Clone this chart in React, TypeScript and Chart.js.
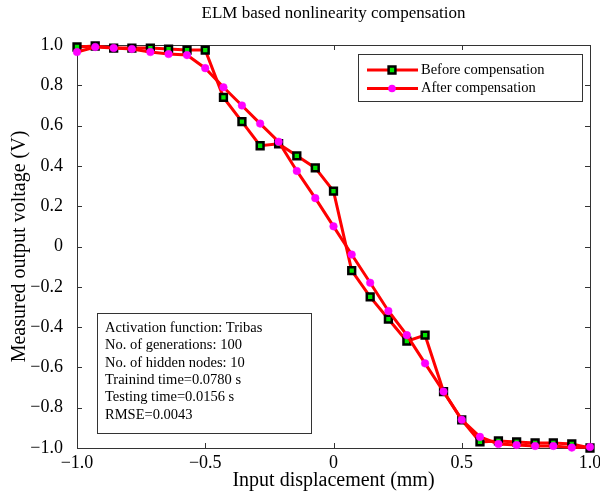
import React, { useEffect, useRef } from 'react';
import { Chart, registerables } from 'chart.js';

Chart.register(...registerables);

const titleText = 'ELM based nonlinearity compensation';
const xLabel = 'Input displacement (mm)';
const yLabel = 'Measured output voltage (V)';
const seriesNames = ['Before compensation', 'After compensation'];

const xValues = [
  -1, -0.929, -0.857, -0.786, -0.714, -0.643, -0.571, -0.5, -0.429, -0.357,
  -0.286, -0.214, -0.143, -0.071, 0, 0.071, 0.143, 0.214, 0.286, 0.357,
  0.429, 0.5, 0.571, 0.643, 0.714, 0.786, 0.857, 0.929, 1,
];
const beforeValues = [
  0.99, 0.995, 0.985, 0.985, 0.985, 0.98, 0.975, 0.975, 0.74, 0.62,
  0.5, 0.51, 0.45, 0.39, 0.275, -0.12, -0.25, -0.36, -0.47, -0.44,
  -0.72, -0.86, -0.97, -0.965, -0.97, -0.975, -0.975, -0.98, -1.0,
];
const afterValues = [
  0.965, 0.99, 0.985, 0.98, 0.965, 0.955, 0.95, 0.885, 0.79, 0.7,
  0.61, 0.52, 0.375, 0.24, 0.1, -0.04, -0.18, -0.32, -0.44, -0.58,
  -0.72, -0.86, -0.945, -0.98, -0.985, -0.99, -0.99, -0.998, -0.995,
];
const xTicks = [-1, -0.5, 0, 0.5, 1];
const yTicks = [-1, -0.8, -0.6, -0.4, -0.2, 0, 0.2, 0.4, 0.6, 0.8, 1];
const infoLines = [
  'Activation function: Tribas',
  'No. of generations: 100',
  'No. of hidden nodes: 10',
  'Trainind time=0.0780 s',
  'Testing time=0.0156 s',
  'RMSE=0.0043',
];

const FONT = "'Liberation Serif', 'Times New Roman', serif";
const RED = '#ff0000';
const GREEN = '#00e400';
const MAGENTA = '#ff00ff';
const FRAME = '#333333';

const fmt = (v: number) =>
  Math.abs(v) < 1e-9 ? '0' : (v < 0 ? '\u2212' : '') + Math.abs(v).toFixed(1);

const framePlugin = {
  id: 'frame',
  beforeDatasetsDraw(chart: any) {
    const { ctx, chartArea: a, scales } = chart;
    ctx.save();
    ctx.strokeStyle = FRAME;
    ctx.lineWidth = 1;
    ctx.strokeRect(a.left + 0.5, a.top + 0.5, a.right - a.left, a.bottom - a.top);
    const L = 5;
    ctx.beginPath();
    scales.x.ticks.forEach((t: any) => {
      const px = Math.round(scales.x.getPixelForValue(t.value)) + 0.5;
      ctx.moveTo(px, a.bottom);
      ctx.lineTo(px, a.bottom - L);
      ctx.moveTo(px, a.top);
      ctx.lineTo(px, a.top + L);
    });
    scales.y.ticks.forEach((t: any) => {
      const py = Math.round(scales.y.getPixelForValue(t.value)) + 0.5;
      ctx.moveTo(a.left, py);
      ctx.lineTo(a.left + L, py);
      ctx.moveTo(a.right, py);
      ctx.lineTo(a.right - L, py);
    });
    ctx.stroke();
    ctx.restore();
  },
};

const overlayPlugin = {
  id: 'overlay',
  afterDatasetsDraw(chart: any) {
    const { ctx, chartArea: a } = chart;
    ctx.save();
    // legend
    const lw = 224;
    const lh = 47;
    const lx = a.right - 8 - lw;
    const ly = a.top + 9;
    ctx.fillStyle = '#ffffff';
    ctx.fillRect(lx, ly, lw, lh);
    ctx.strokeStyle = FRAME;
    ctx.lineWidth = 1;
    ctx.strokeRect(lx + 0.5, ly + 0.5, lw, lh);
    const rows = [ly + 16, ly + 34.5];
    ctx.font = `14.5px ${FONT}`;
    ctx.textBaseline = 'middle';
    ctx.textAlign = 'left';
    rows.forEach((ry, i) => {
      ctx.strokeStyle = RED;
      ctx.lineWidth = 3;
      ctx.beginPath();
      ctx.moveTo(lx + 9, ry);
      ctx.lineTo(lx + 60, ry);
      ctx.stroke();
      const mx = lx + 34;
      if (i === 0) {
        ctx.fillStyle = GREEN;
        ctx.strokeStyle = '#000';
        ctx.lineWidth = 2.5;
        ctx.beginPath();
        ctx.rect(mx - 3.4, ry - 3.4, 6.8, 6.8);
        ctx.fill();
        ctx.stroke();
      } else {
        ctx.fillStyle = MAGENTA;
        ctx.beginPath();
        ctx.arc(mx, ry, 3.8, 0, Math.PI * 2);
        ctx.fill();
      }
      ctx.fillStyle = '#000';
      ctx.fillText(seriesNames[i], lx + 63, ry);
    });
    // info box
    const bw = 214;
    const bh = 120;
    const bx = a.left + 20;
    const by = a.bottom - 15 - bh;
    ctx.fillStyle = '#ffffff';
    ctx.fillRect(bx, by, bw, bh);
    ctx.strokeStyle = FRAME;
    ctx.lineWidth = 1;
    ctx.strokeRect(bx + 0.5, by + 0.5, bw, bh);
    ctx.fillStyle = '#000';
    ctx.font = `14.5px ${FONT}`;
    infoLines.forEach((t, i) => {
      ctx.fillText(t, bx + 8, by + 15 + i * 17.4);
    });
    ctx.restore();
  },
};

export default function App() {
  const ref = useRef<HTMLCanvasElement | null>(null);

  useEffect(() => {
    if (!ref.current) return;
    const chart = new Chart(ref.current, {
      type: 'line',
      data: {
        datasets: [
          {
            label: seriesNames[0],
            data: xValues.map((x, i) => ({ x, y: beforeValues[i] })),
            borderColor: RED,
            borderWidth: 3,
            backgroundColor: GREEN,
            pointStyle: 'rect',
            pointRadius: 4.8,
            pointBackgroundColor: GREEN,
            pointBorderColor: '#000000',
            pointBorderWidth: 2.5,
            tension: 0,
            clip: false,
            order: 2,
          } as any,
          {
            label: seriesNames[1],
            data: xValues.map((x, i) => ({ x, y: afterValues[i] })),
            borderColor: RED,
            borderWidth: 3,
            backgroundColor: MAGENTA,
            pointStyle: 'circle',
            pointRadius: 3.8,
            pointBackgroundColor: MAGENTA,
            pointBorderColor: MAGENTA,
            pointBorderWidth: 0.5,
            tension: 0,
            clip: false,
            order: 1,
          } as any,
        ],
      },
      options: {
        responsive: false,
        animation: false,
        events: [],
        layout: { padding: { left: 0, right: 10, top: 0, bottom: 0 } },
        plugins: {
          legend: { display: false },
          tooltip: { enabled: false },
          title: {
            display: true,
            fullSize: false,
            text: titleText,
            color: '#000',
            font: { family: FONT, size: 17, weight: 'normal' },
            padding: { top: 3.5, bottom: 21.1 },
          },
        },
        scales: {
          x: {
            type: 'linear',
            min: -1,
            max: 1,
            afterBuildTicks: (s: any) => {
              s.ticks = xTicks.map((v) => ({ value: v }));
            },
            afterFit: (s: any) => {
              s.height = 45;
              s.paddingLeft = 0;
              s.paddingRight = 0;
            },
            grid: { display: false, drawTicks: false },
            border: { display: false },
            ticks: {
              color: '#000',
              font: { family: FONT, size: 18 },
              padding: 4,
              maxRotation: 0,
              autoSkip: false,
              callback: (v: any) => fmt(Number(v)),
            },
            title: {
              display: true,
              text: xLabel,
              color: '#000',
              font: { family: FONT, size: 20 },
              padding: { top: 0, bottom: 0 },
            },
          },
          y: {
            type: 'linear',
            min: -1,
            max: 1,
            afterBuildTicks: (s: any) => {
              s.ticks = yTicks.map((v) => ({ value: v }));
            },
            afterFit: (s: any) => {
              s.width = 77;
              s.paddingTop = 0;
              s.paddingBottom = 0;
            },
            grid: { display: false, drawTicks: false },
            border: { display: false },
            ticks: {
              color: '#000',
              font: { family: FONT, size: 18 },
              padding: 14,
              autoSkip: false,
              callback: (v: any) => fmt(Number(v)),
            },
            title: {
              display: true,
              text: yLabel,
              color: '#000',
              font: { family: FONT, size: 20 },
              padding: { top: 8, bottom: 0 },
            },
          },
        },
      },
      plugins: [framePlugin, overlayPlugin],
    });
    return () => chart.destroy();
  }, []);

  return (
    <div style={{ position: 'fixed', left: 0, top: 0, width: 600, height: 493, background: '#fff' }}>
      <canvas ref={ref} width={600} height={493} />
    </div>
  );
}
